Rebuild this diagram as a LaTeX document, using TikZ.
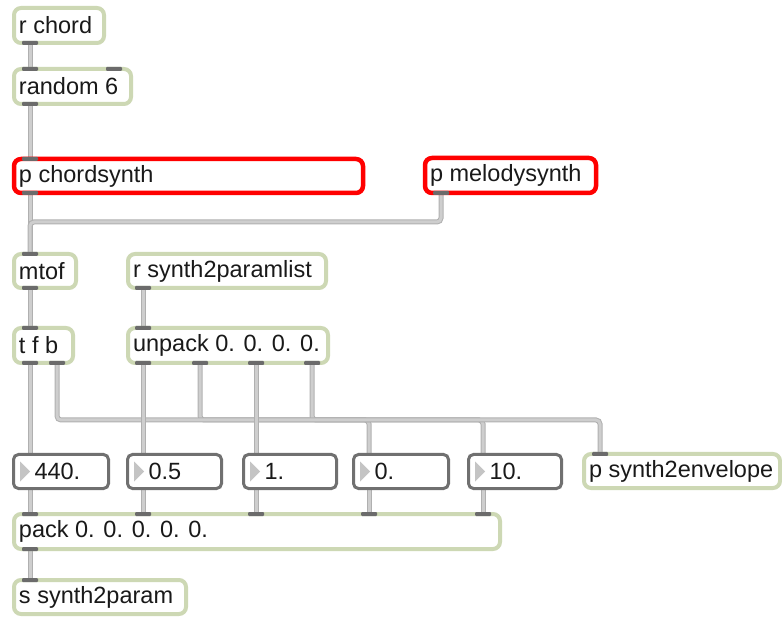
\documentclass[tikz,border=0pt]{standalone}
\usepackage{fontspec}
\setmainfont{Liberation Sans}
\usetikzlibrary{calc}
\definecolor{mgreen}{RGB}{205,216,180}
\definecolor{mred}{RGB}{255,0,0}
\definecolor{mport}{RGB}{107,107,107}
\definecolor{mnum}{RGB}{112,112,112}
\definecolor{mtri}{RGB}{196,196,196}
\definecolor{mcordo}{RGB}{176,176,176}
\definecolor{mcordi}{RGB}{206,206,206}
\definecolor{mtext}{RGB}{25,25,25}
\pgfdeclarelayer{bg}
\pgfsetlayers{bg,main}
\newcommand\maxfont{\fontsize{23.5}{26}\selectfont}
\tikzset{
 obj/.style={draw=mgreen, fill=white, line width=4, rounded corners=7, font=\maxfont, text=mtext, inner xsep=5, inner ysep=0, outer sep=0},
 redobj/.style={obj, draw=mred, line width=4.5},
 numbox/.style={draw=mnum, fill=white, line width=3, rounded corners=5, font=\maxfont, text=mtext, inner xsep=21, inner ysep=0, outer sep=0},
 cord/.style={draw=mcordo, line width=1, double=mcordi, double distance=3, rounded corners=4},
 port/.style={fill=mport, rounded corners=1},
}
% name, x, y, w, h, style, text  (outer box in px, y downward)
\newcommand\MaxObj[7]{\pgfmathsetmacro\mw{#4-4}\pgfmathsetmacro\mh{#5-4}\pgfmathsetmacro\tw{#4-14}%
 \node[#6, anchor=north west, minimum width=\mw pt, minimum height=\mh pt] (#1) at ({#2+2},{-#3-2}) {\makebox[\tw pt][l]{#7}};}
\newcommand\NumObj[6]{\pgfmathsetmacro\mw{#4-3}\pgfmathsetmacro\mh{#5-3}\pgfmathsetmacro\tw{#4-45}%
 \node[numbox, anchor=north west, minimum width=\mw pt, minimum height=\mh pt] (#1) at ({#2+1.5},{-#3-1.5}) {\makebox[\tw pt][l]{#6}};
 \fill[mtri] ($(#1.west)+(6.5,10)$) -- ($(#1.west)+(6.5,-10)$) -- ($(#1.west)+(16.5,0)$) -- cycle;}
\newcommand\Port[2]{\fill[port] ($(#1)+(#2-8,2)$) rectangle ++(16,-4);}
\begin{document}
\begin{tikzpicture}[x=1pt,y=1pt]
\useasboundingbox (0,0) rectangle (782,-617);
\MaxObj{rchord}{12}{6}{94}{39}{obj}{r chord}
\MaxObj{rnd}{12}{67}{121}{39}{obj}{random 6}
\MaxObj{chord}{12}{157}{353}{38}{redobj}{p chordsynth}
\MaxObj{melody}{423}{156}{175}{39}{redobj}{p melodysynth}
\MaxObj{mtof}{12}{252}{66}{38}{obj}{mtof}
\MaxObj{rpl}{126}{252}{202}{38}{obj}{r synth2paramlist}
\MaxObj{tfb}{12}{326}{63}{39}{obj}{t f b}
\MaxObj{unpack}{126}{326}{204}{39}{obj}{unpack 0. 0. 0. 0.}
\NumObj{na}{12}{453}{98}{37}{440.}
\NumObj{nb}{126}{453}{97}{37}{0.5}
\NumObj{nc}{242}{453}{96}{37}{1.}
\NumObj{nd}{352}{453}{98}{37}{0.}
\NumObj{ne}{467}{453}{96}{37}{10.}
\MaxObj{env}{582}{452}{200}{38}{obj}{p synth2envelope}
\MaxObj{pack}{12}{512}{490}{39}{obj}{pack 0. 0. 0. 0. 0.}
\MaxObj{send}{12}{578}{176}{38}{obj}{s synth2param}
% ports
\Port{rchord.south west}{16}
\Port{rnd.north west}{16}\Port{rnd.north west}{100}\Port{rnd.south west}{16}
\Port{chord.north west}{16}\Port{chord.south west}{16}
\Port{melody.south west}{16}
\Port{mtof.north west}{16}\Port{mtof.south west}{16}
\Port{rpl.south west}{15}
\Port{tfb.north west}{16}\Port{tfb.south west}{16}\Port{tfb.south west}{43}
\Port{unpack.north west}{15}
\Port{unpack.south west}{15}\Port{unpack.south west}{72}\Port{unpack.south west}{128}\Port{unpack.south west}{184}
\Port{env.north west}{16}
\Port{pack.north west}{16}\Port{pack.north west}{129}\Port{pack.north west}{242}\Port{pack.north west}{355}\Port{pack.north west}{469}
\Port{pack.south west}{16}
\Port{send.north west}{16}
% cords
\begin{pgfonlayer}{bg}
\fill[white] (0,0) rectangle (782,-617);
\draw[cord] ($(rchord.south west)+(16,0)$) -- ($(rnd.north west)+(16,0)$);
\draw[cord] ($(rnd.south west)+(16,0)$) -- ($(chord.north west)+(16,0)$);
\draw[cord] ($(chord.south west)+(16,0)$) -- ($(mtof.north west)+(16,0)$);
\draw[cord] ($(melody.south west)+(16,0)$) |- ($(chord.south west)+(16,-29)$) -- ($(mtof.north west)+(16,0)$);
\draw[cord] ($(mtof.south west)+(16,0)$) -- ($(tfb.north west)+(16,0)$);
\draw[cord] ($(rpl.south west)+(15,0)$) -- ($(unpack.north west)+(15,0)$);
\draw[cord] ($(tfb.south west)+(16,0)$) -- ($(na.north west)+(16.5,0)$);
\draw[cord] ($(unpack.south west)+(72,0)$) -- ++(0,-57) -| ($(nd.north west)+(15.5,0)$);
\draw[cord] ($(unpack.south west)+(184,0)$) -- ++(0,-57) -| ($(ne.north west)+(14.5,0)$);
\draw[cord] ($(tfb.south west)+(43,0)$) -- ++(0,-57) -| ($(env.north west)+(16,0)$);
\draw[cord] ($(unpack.south west)+(15,0)$) -- ($(nb.north west)+(15.5,0)$);
\draw[cord] ($(unpack.south west)+(128,0)$) -- ($(nc.north west)+(12.5,0)$);
\draw[cord] ($(na.south west)+(16.5,0)$) -- ($(pack.north west)+(16,0)$);
\draw[cord] ($(nb.south west)+(15.5,0)$) -- ($(pack.north west)+(129,0)$);
\draw[cord] ($(nc.south west)+(12.5,0)$) -- ($(pack.north west)+(242,0)$);
\draw[cord] ($(nd.south west)+(15.5,0)$) -- ($(pack.north west)+(355,0)$);
\draw[cord] ($(ne.south west)+(14.5,0)$) -- ($(pack.north west)+(469,0)$);
\draw[cord] ($(pack.south west)+(16,0)$) -- ($(send.north west)+(16,0)$);
\end{pgfonlayer}
\end{tikzpicture}
\end{document}
